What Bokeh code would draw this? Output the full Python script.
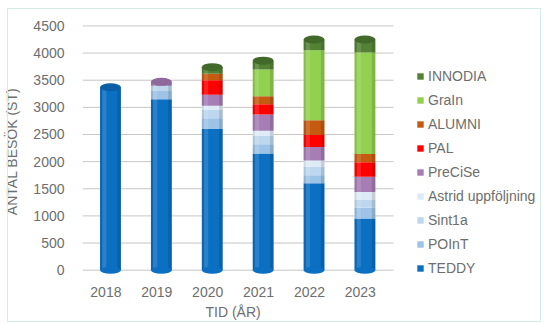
from bokeh.plotting import figure
from bokeh.models import (FixedTicker, Legend, LegendItem, ColumnDataSource,
                          Range1d, Title, InlineStyleSheet)
from bokeh.embed import file_html
from bokeh.resources import INLINE

years = ["2018", "2019", "2020", "2021", "2022", "2023"]
series = ["TEDDY", "POInT", "Sint1a", "Astrid uppföljning", "PreCiSe",
          "PAL", "ALUMNI", "GraIn", "INNODIA"]
TEDDY = [3370, 3150, 2600, 2150, 1600, 950]
POInT = [0, 150, 200, 170, 150, 200]
Sint1a = [0, 100, 150, 150, 150, 150]
Astrid = [0, 0, 80, 100, 120, 140]
PreCiSe = [0, 70, 200, 300, 250, 280]
PAL = [0, 0, 270, 185, 220, 270]
ALUMNI = [0, 0, 120, 150, 270, 150]
GraIn = [0, 0, 0, 490, 1290, 1870]
INNODIA = [0, 0, 120, 165, 200, 240]
y_ticks = [0, 500, 1000, 1500, 2000, 2500, 3000, 3500, 4000, 4500]

colors = ["#0b6fc2", "#9dc3e6", "#bdd7ee", "#deebf7", "#a67db5",
          "#ff0000", "#c55a11", "#92d050", "#548235"]
cap_colors = ["#0a5ea6", "#8ab4db", "#a9c8e4", "#c8d9ea", "#8e6a9c",
              "#d90000", "#a84c0e", "#7cb845", "#41692a"]

values = [TEDDY, POInT, Sint1a, Astrid, PreCiSe, PAL, ALUMNI, GraIn, INNODIA]
idx = list(range(len(years)))
xs = [i + 0.09 for i in idx]
data = {"x": xs}
for name, vals in zip(series, values):
    data[name] = vals
src = ColumnDataSource(data)

totals = [sum(v[i] for v in values) for i in idx]
top_cap = []
for i in idx:
    last = 0
    for k, v in enumerate(values):
        if v[i] > 0:
            last = k
    top_cap.append(cap_colors[last])

FONT = "Liberation Sans"
TXT = "#6e6e6e"
X0, XG, X1 = -0.46, 5.65, 8.54

p = figure(width=544, height=324, output_backend="svg", toolbar_location=None,
           x_range=Range1d(X0, X1), y_range=Range1d(-227, 4600),
           min_border_left=82, min_border_right=4, min_border_top=20,
           min_border_bottom=42)
p.outline_line_color = None
p.background_fill_color = "white"
p.border_fill_color = "white"
p.stylesheets = [InlineStyleSheet(css=(
    ":host::after { content: ''; position: absolute; left: 7px; top: 8px; "
    "width: 532px; height: 312px; border: 1.5px solid #d3ece6; "
    "pointer-events: none; z-index: 50; }"))]

# gridlines (ending at the plot area's right edge)
p.segment(x0=[X0] * len(y_ticks), y0=y_ticks, x1=[XG] * len(y_ticks),
          y1=y_ticks, line_color="#c6c6c6", line_width=1)

rs = p.vbar_stack(series, x="x", width=0.41, source=src, color=colors,
                  line_color=None)

# cylinder shading
p.vbar(x=[x - 0.12 for x in xs], top=totals, bottom=0, width=0.08,
       fill_color="white", fill_alpha=0.13, line_color=None)
p.vbar(x=[x + 0.17 for x in xs], top=totals, bottom=0, width=0.07,
       fill_color="black", fill_alpha=0.12, line_color=None)
p.vbar(x=[x - 0.185 for x in xs], top=totals, bottom=0, width=0.04,
       fill_color="black", fill_alpha=0.08, line_color=None)
# bottom and top caps
p.ellipse(x=xs, y=[0] * len(xs), width=0.41, height=7, height_units="screen",
          fill_color=colors[0], line_color=None)
p.ellipse(x=xs, y=totals, width=0.41, height=8, height_units="screen",
          fill_color=top_cap, line_color=None)

p.yaxis.ticker = FixedTicker(ticks=y_ticks)
p.xaxis.ticker = FixedTicker(ticks=idx)
p.xaxis.major_label_overrides = {i: y for i, y in enumerate(years)}
for ax in (p.xaxis[0], p.yaxis[0]):
    ax.axis_line_color = None
    ax.major_tick_line_color = None
    ax.minor_tick_line_color = None
    ax.major_label_text_font = FONT
    ax.major_label_text_font_size = "14px"
    ax.major_label_text_color = TXT
    ax.axis_label_text_font = FONT
    ax.axis_label_text_font_size = "14px"
    ax.axis_label_text_color = TXT
    ax.axis_label_text_font_style = "normal"
p.yaxis.axis_label = "ANTAL BESÖK (ST)"
p.yaxis.major_label_standoff = 12
p.yaxis.axis_label_standoff = 10
p.xaxis.major_label_standoff = -2

p.add_layout(Title(text="TID (ÅR)", align="left", offset=123, standoff=5,
                   text_font=FONT, text_font_size="14px",
                   text_font_style="normal", text_color=TXT), "below")

p.xgrid.grid_line_color = None
p.ygrid.grid_line_color = None

items = [LegendItem(label=name, renderers=[r]) for name, r in zip(series, rs)]
legend = Legend(items=items[::-1], location=(334, 6),
                glyph_width=8, glyph_height=8, label_standoff=4,
                label_text_font=FONT, label_text_font_size="14px",
                label_text_color=TXT, label_height=16, spacing=8,
                padding=0, margin=0, border_line_color=None,
                background_fill_alpha=0)
p.add_layout(legend, "center")

open("out.html", "w").write(file_html(p, INLINE))
